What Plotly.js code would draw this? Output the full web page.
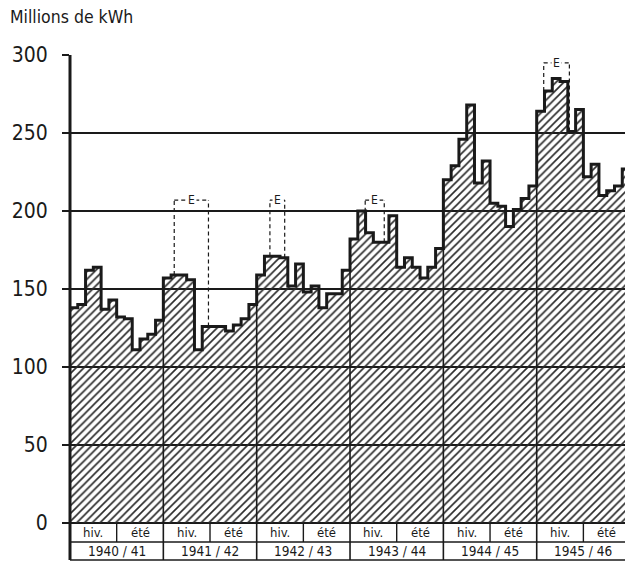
<!DOCTYPE html>
<html><head><meta charset="utf-8">
<script src="https://cdn.plot.ly/plotly-3.0.1.min.js"></script>
<style>html,body{margin:0;padding:0;background:#fff;} #chart{width:625px;height:566px;}</style>
</head><body><div id="chart"></div>
<script>
// Hydrological years (Oct..Sep), monthly values, Millions de kWh
const seasons = ['1940 / 41','1941 / 42','1942 / 43','1943 / 44','1944 / 45','1945 / 46'];
const halfLabels = ['hiv.','été'];
const prod1940 = [138,140,162,164,137,143,132,131,111,118,121,130];
const prod1941 = [157,159,159,156,111,126,126,126,123,127,131,140];
const prod1942 = [159,171,171,170,152,166,148,152,138,147,147,162];
const prod1943 = [182,200,186,180,180,197,164,170,164,157,164,176];
const prod1944 = [220,229,246,268,218,232,205,203,190,201,208,216];
const prod1945 = [264,277,285,283,251,265,222,230,210,213,216,227];
// "E" dashed boxes: start / end (months counted from Oct 1940) and top value
const eStart = [13.4, 25.7, 37.95, 60.9];
const eEnd   = [17.8, 27.6, 40.4, 64.2];
const eTop   = [207, 207, 207, 295];

const values = [].concat(prod1940, prod1941, prod1942, prod1943, prod1944, prod1945);
const xs = values.map((v,i)=>i);
const xStep = xs.concat([values.length]);
const yStep = values.concat([values[values.length-1]]);

const XMAX = 71.35;
const PH = 468; // plot height px
const row1 = -19/PH, row2 = -37/PH;
const FONT = 'DejaVu Sans Condensed, DejaVu Sans, sans-serif';
const INK = '#1a1a1a';

const traces = [{
  type:'scatter', mode:'lines', x:xStep, y:yStep,
  line:{shape:'hv', color:INK, width:3},
  fill:'tozeroy', fillcolor:'rgba(0,0,0,0)',
  fillpattern:{shape:'/', size:5.5, solidity:0.3, fgcolor:'#2a2a2a', bgcolor:'rgba(0,0,0,0)'},
  hoverinfo:'skip'
}];

const shapes = [];
const annotations = [];
const nYears = seasons.length;
for (let k=0;k<nYears;k++){
  const x0 = 12*k;
  if (k>0){
    const top = Math.max(values[x0-1], values[x0]);
    shapes.push({type:'line', xref:'x', yref:'y', x0:x0, x1:x0, y0:0, y1:top, line:{color:INK, width:1.6}});
    shapes.push({type:'line', xref:'x', yref:'paper', x0:x0, x1:x0, y0:row2, y1:0, line:{color:INK, width:1.6}});
  }
  shapes.push({type:'line', xref:'x', yref:'paper', x0:x0+6, x1:x0+6, y0:row1, y1:0, line:{color:INK, width:1.4}});
  annotations.push({xref:'x', yref:'paper', x:x0+3, y:row1/2, text:halfLabels[0], showarrow:false, font:{family:FONT, size:13, color:INK}, xanchor:'center', yanchor:'middle'});
  annotations.push({xref:'x', yref:'paper', x:x0+9, y:row1/2, text:halfLabels[1], showarrow:false, font:{family:FONT, size:13, color:INK}, xanchor:'center', yanchor:'middle'});
  annotations.push({xref:'x', yref:'paper', x:x0+6, y:(row1+row2)/2, text:seasons[k], showarrow:false, font:{family:FONT, size:13.5, color:INK}, xanchor:'center', yanchor:'middle'});
}
// table horizontal lines and left axis
shapes.push({type:'line', xref:'paper', yref:'paper', x0:0, x1:1, y0:row1, y1:row1, line:{color:INK, width:1.6}});
shapes.push({type:'line', xref:'paper', yref:'paper', x0:0, x1:1, y0:row2, y1:row2, line:{color:INK, width:1.6}});
shapes.push({type:'line', xref:'paper', yref:'paper', x0:0, x1:0, y0:row2, y1:1, line:{color:INK, width:3}});

// E boxes
const dash = '4px,3px';
for (let i=0;i<eStart.length;i++){
  const a = eStart[i], b = eEnd[i], t = eTop[i];
  const ya = values[Math.floor(a)+ (a%1>0.85?1:0)], yb = values[Math.floor(b)];
  shapes.push({type:'line', xref:'x', yref:'y', x0:a, x1:a, y0:ya, y1:t, line:{color:INK, width:1.2, dash:dash}});
  shapes.push({type:'line', xref:'x', yref:'y', x0:b, x1:b, y0:yb, y1:t, line:{color:INK, width:1.2, dash:dash}});
  shapes.push({type:'line', xref:'x', yref:'y', x0:a, x1:b, y0:t, y1:t, line:{color:INK, width:1.2, dash:dash}});
  annotations.push({xref:'x', yref:'y', x:(a+b)/2, y:t, text:'E', showarrow:false, bgcolor:'#fff', borderpad:1, font:{family:FONT, size:12, color:INK}, xanchor:'center', yanchor:'middle'});
}
// y-axis title
annotations.push({xref:'paper', yref:'paper', x:-62/555, y:1+(55-17)/PH, text:'Millions de kWh', showarrow:false, xanchor:'left', yanchor:'middle', font:{family:FONT, size:17.5, color:INK}});

const layout = {
  width:625, height:566,
  margin:{l:70, r:0, t:55, b:43},
  paper_bgcolor:'#fff', plot_bgcolor:'#fff',
  showlegend:false,
  xaxis:{range:[0,XMAX], showgrid:false, zeroline:false, showticklabels:false, ticks:'', showline:false, fixedrange:true},
  yaxis:{range:[0,300], tickvals:[0,50,100,150,200,250,300], ticks:'outside', ticklen:7, tickwidth:1.2, tickcolor:INK,
         showgrid:true, gridcolor:INK, gridwidth:1.1, zeroline:true, zerolinecolor:INK, zerolinewidth:2,
         showline:false, tickfont:{family:FONT, size:21, color:INK}, ticklabelstandoff:10, fixedrange:true},
  shapes:shapes, annotations:annotations
};
Plotly.newPlot('chart', traces, layout, {displayModeBar:false, staticPlot:true});
</script></body></html>
